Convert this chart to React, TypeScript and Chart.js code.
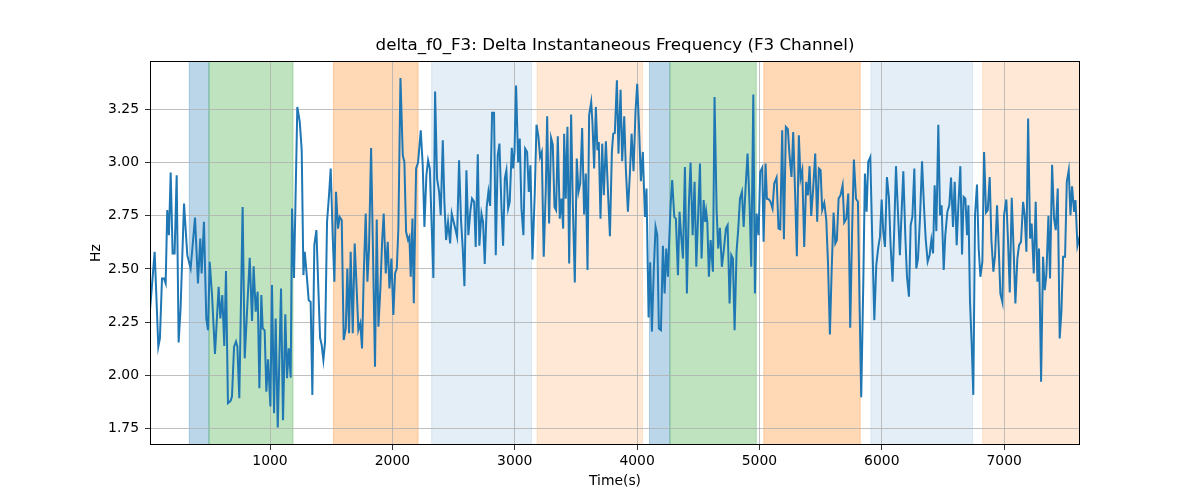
import React, { useEffect, useRef } from "react";
import { Chart, registerables } from "chart.js";

Chart.register(...registerables);

// ---- data ----
const timeS: number[] = [
  // 0 - 1300
  19, 57, 87, 100, 117, 133, 147, 160, 174, 188,
  204, 220, 237, 253, 269, 297, 324, 351, 387, 411,
  430, 441, 460, 479, 493, 507, 526, 550, 580, 594,
  610, 626, 640, 656, 678, 689, 706, 722, 733, 749,
  776, 793, 834, 853, 866, 883, 899, 913, 929, 940,
  956, 970, 984, 1003, 1016, 1033, 1046, 1063, 1090, 1106,
  1125, 1139, 1153, 1169, 1180, 1196, 1223, 1243, 1259, 1273,
  1284,
  // 1300 - 2480
  1300, 1316, 1332, 1346, 1362, 1379, 1395, 1409, 1422, 1436,
  1450, 1466, 1482, 1496, 1512, 1526, 1539, 1556, 1569, 1586,
  1602, 1619, 1632, 1646, 1659, 1676, 1692, 1708, 1722, 1738,
  1752, 1766, 1782, 1796, 1809, 1826, 1842, 1858, 1872, 1886,
  1902, 1916, 1929, 1946, 1962, 1976, 1992, 2008, 2022, 2036,
  2049, 2066, 2085, 2098, 2112, 2128, 2139, 2150, 2164, 2175,
  2194, 2210, 2232, 2248, 2262, 2278, 2292, 2306, 2322, 2335,
  2349, 2365, 2382, 2395, 2412, 2425, 2439, 2455, 2472,
  // 2480 - 3710
  2485, 2499, 2515, 2529, 2545, 2561, 2575, 2589, 2605, 2621,
  2638, 2651, 2668, 2681, 2698, 2711, 2728, 2741, 2755, 2771,
  2785, 2799, 2815, 2831, 2845, 2861, 2875, 2891, 2905, 2919,
  2932, 2946, 2959, 2976, 2987, 2998, 3011, 3028, 3041, 3055,
  3071, 3085, 3101, 3115, 3128, 3145, 3164, 3178, 3194, 3207,
  3221, 3237, 3254, 3265, 3281, 3297, 3311, 3325, 3338, 3352,
  3368, 3382, 3396, 3404, 3417, 3431, 3445, 3461, 3475, 3491,
  3507, 3521, 3535, 3551, 3567, 3581, 3595, 3608, 3625, 3635,
  3649, 3663, 3676, 3687, 3701,
  // 3710 - 5000
  3715, 3728, 3745, 3761, 3778, 3794, 3805, 3818, 3835, 3848,
  3865, 3878, 3895, 3908, 3925, 3941, 3955, 3971, 3987, 4001,
  4015, 4031, 4047, 4064, 4077, 4094, 4107, 4121, 4137, 4151,
  4165, 4178, 4195, 4211, 4225, 4238, 4252, 4260, 4274, 4287,
  4304, 4317, 4334, 4347, 4361, 4375, 4391, 4407, 4424, 4437,
  4454, 4470, 4484, 4500, 4514, 4527, 4544, 4557, 4565, 4574,
  4587, 4601, 4620, 4633, 4650, 4663, 4677, 4693, 4710, 4726,
  4740, 4756, 4770, 4783, 4797, 4813, 4827, 4841, 4857, 4871,
  4887, 4903, 4920, 4933, 4950, 4963, 4977, 4993,
  // 5000 - 6230
  5006, 5023, 5034, 5050, 5061, 5077, 5091, 5107, 5121, 5140,
  5156, 5170, 5186, 5200, 5216, 5232, 5246, 5262, 5276, 5292,
  5306, 5322, 5336, 5350, 5366, 5382, 5396, 5410, 5423, 5440,
  5456, 5472, 5486, 5500, 5513, 5530, 5546, 5560, 5576, 5590,
  5606, 5620, 5633, 5647, 5663, 5680, 5693, 5710, 5726, 5742,
  5759, 5772, 5789, 5805, 5819, 5832, 5849, 5862, 5876, 5889,
  5906, 5922, 5939, 5955, 5971, 5985, 5999, 6012, 6026, 6042,
  6058, 6072, 6088, 6102, 6116, 6132, 6148, 6162, 6176, 6192,
  6206, 6222,
  // 6230 - 7620
  6236, 6250, 6266, 6282, 6296, 6312, 6329, 6345, 6359, 6375,
  6391, 6405, 6419, 6432, 6446, 6462, 6476, 6489, 6506, 6519,
  6536, 6552, 6566, 6582, 6596, 6612, 6626, 6642, 6656, 6669,
  6683, 6697, 6708, 6721, 6735, 6748, 6762, 6778, 6792, 6806,
  6822, 6836, 6852, 6866, 6882, 6896, 6912, 6926, 6942, 6956,
  6969, 6986, 6999, 7018, 7032, 7046, 7062, 7078, 7092, 7108,
  7122, 7138, 7155, 7168, 7182, 7196, 7212, 7225, 7242, 7258,
  7272, 7285, 7302, 7318, 7332, 7345, 7362, 7375, 7392, 7408,
  7422, 7438, 7454, 7468, 7482, 7498, 7512, 7528, 7542, 7555,
  7572, 7583, 7599, 7620,
];

const deltaHz: number[] = [
  // 0 - 1300
  2.306, 2.581, 2.134, 2.173, 2.455, 2.455, 2.432, 2.777, 2.659, 2.954,
  2.573, 2.573, 2.941, 2.154, 2.314, 2.808, 2.565, 2.502, 2.742, 2.432,
  2.643, 2.479, 2.722, 2.267, 2.212, 2.534, 2.377, 2.100, 2.416, 2.267,
  2.377, 2.137, 2.490, 1.868, 1.879, 1.899, 2.134, 2.158, 2.134, 1.891,
  2.792, 2.079, 2.553, 2.255, 2.513, 2.299, 2.393, 1.938, 2.377, 2.220,
  2.211, 1.922, 2.074, 1.852, 2.424, 1.820, 2.267, 1.753, 2.408, 1.788,
  2.286, 1.985, 2.126, 1.988, 2.785, 2.458, 3.263, 3.192, 3.059, 2.471,
  2.581,
  // 1300 - 2480
  2.471, 2.353, 2.345, 1.907, 2.612, 2.683, 2.408, 2.176, 2.142, 2.071,
  2.158, 2.722, 2.847, 2.973, 2.659, 2.440, 2.863, 2.690, 2.745, 2.730,
  2.165, 2.220, 2.502, 2.197, 2.581, 2.197, 2.620, 2.408, 2.212, 2.244,
  2.126, 2.471, 2.761, 2.440, 2.596, 3.070, 2.565, 2.040, 2.733, 2.228,
  2.408, 2.628, 2.761, 2.479, 2.628, 2.408, 2.549, 2.283, 2.479, 2.502,
  2.690, 3.399, 3.035, 3.004, 2.675, 2.636, 2.651, 2.463, 2.737, 2.338,
  2.973, 3.001, 3.153, 2.988, 2.698, 2.941, 3.012, 2.973, 2.690, 2.458,
  3.336, 2.926, 2.863, 2.753, 3.106, 2.816, 2.636, 2.722, 2.620,
  // 2480 - 3710
  2.761, 2.726, 2.687, 2.651, 3.012, 2.730, 2.596, 2.419, 2.965, 2.659,
  2.777, 2.831, 2.816, 2.604, 3.040, 2.609, 2.761, 2.722, 2.523, 2.792,
  2.863, 2.797, 3.236, 3.236, 2.565, 3.035, 3.090, 2.800, 2.609, 2.926,
  2.965, 2.784, 2.816, 3.070, 2.973, 3.051, 3.364, 3.001, 3.114, 2.784,
  2.659, 3.067, 3.051, 2.863, 2.988, 2.545, 2.863, 3.179, 3.121, 3.027,
  3.051, 2.557, 2.879, 3.219, 2.714, 3.117, 3.085, 2.792, 2.777, 3.125,
  2.737, 2.831, 2.690, 3.137, 2.831, 3.169, 2.526, 3.227, 2.800, 2.436,
  3.020, 2.863, 2.902, 3.164, 2.756, 2.949, 2.495, 3.223, 3.286, 3.192,
  2.973, 3.263, 3.059, 3.098, 2.737,
  // 3710 - 5000
  3.090, 2.847, 3.101, 2.879, 2.654, 3.051, 3.137, 3.140, 3.388, 3.043,
  3.344, 3.007, 3.219, 2.973, 2.769, 2.949, 3.137, 2.960, 3.239, 3.372,
  3.184, 2.913, 3.051, 2.745, 2.879, 2.272, 2.531, 2.205, 2.502, 2.698,
  2.659, 2.220, 2.212, 2.609, 2.385, 2.596, 2.463, 2.596, 2.800, 2.918,
  2.745, 2.737, 2.471, 2.769, 2.651, 2.549, 2.980, 2.385, 2.816, 3.001,
  2.659, 2.910, 2.510, 2.769, 2.996, 2.549, 2.824, 2.722, 2.769, 2.722,
  2.463, 2.636, 2.487, 3.310, 2.777, 2.596, 2.694, 2.510, 2.596, 2.690,
  2.706, 2.338, 2.565, 2.549, 2.212, 2.581, 2.690, 2.831, 2.863, 2.698,
  2.886, 3.043, 2.792, 2.510, 3.321, 2.385, 2.761, 2.659,
  // 5000 - 6230
  2.957, 2.977, 2.628, 2.996, 2.831, 2.828, 2.816, 2.784, 2.902, 2.930,
  2.690, 2.687, 3.153, 2.640, 3.169, 3.158, 3.035, 2.933, 3.145, 2.847,
  2.560, 3.129, 2.926, 2.965, 2.604, 2.910, 2.847, 2.984, 2.750, 2.886,
  3.043, 2.722, 2.973, 2.965, 2.777, 2.811, 2.734, 2.534, 2.192, 2.487,
  2.766, 2.620, 2.636, 2.831, 2.847, 2.894, 2.719, 2.737, 2.855, 2.223,
  2.722, 3.015, 2.831, 2.816, 2.314, 1.896, 2.440, 2.949, 2.769, 3.004,
  3.027, 2.643, 2.259, 2.518, 2.600, 2.651, 2.827, 2.675, 2.604, 2.933,
  2.839, 2.612, 2.440, 2.690, 2.984, 2.769, 2.565, 2.769, 2.960, 2.659,
  2.463, 2.369,
  // 6230 - 7620
  2.706, 2.745, 2.973, 2.502, 2.549, 2.737, 3.007, 2.792, 2.640, 2.534,
  2.565, 2.636, 2.573, 2.894, 2.678, 3.179, 2.753, 2.800, 2.495, 2.659,
  2.769, 2.800, 2.930, 2.698, 2.910, 2.612, 2.800, 2.984, 2.568, 2.839,
  2.831, 2.659, 2.800, 2.346, 2.142, 1.907, 2.753, 2.897, 2.596, 2.463,
  2.534, 3.051, 2.766, 2.777, 2.933, 2.636, 2.487, 2.565, 2.800, 2.596,
  2.385, 2.343, 2.753, 2.827, 2.628, 2.389, 2.835, 2.581, 2.338, 2.549,
  2.612, 2.628, 2.816, 2.753, 2.581, 3.208, 2.643, 2.714, 2.479, 2.816,
  2.440, 2.596, 1.969, 2.557, 2.400, 2.471, 2.750, 2.455, 2.991, 2.737,
  2.683, 2.879, 2.173, 2.299, 2.557, 2.557, 2.910, 2.965, 2.753, 2.889,
  2.769, 2.824, 2.609, 2.659,
];

const xTicks = [1000, 2000, 3000, 4000, 5000, 6000, 7000];
const yTicks = [1.75, 2.0, 2.25, 2.5, 2.75, 3.0, 3.25];
const xRange = [19, 7620];
const yRange = [1.671, 3.479];

// shaded phases
const spanStart = [340, 501, 1518, 2321, 3183, 4101, 4268, 5036, 5911, 6824];
const spanEnd = [501, 1188, 2210, 3137, 4044, 4268, 4974, 5824, 6742, 7620];
const spanColor = [
  "rgba(31,119,180,0.3)",
  "rgba(44,160,44,0.3)",
  "rgba(255,127,14,0.3)",
  "rgba(31,119,180,0.12)",
  "rgba(255,127,14,0.17)",
  "rgba(31,119,180,0.3)",
  "rgba(44,160,44,0.3)",
  "rgba(255,127,14,0.3)",
  "rgba(31,119,180,0.12)",
  "rgba(255,127,14,0.17)",
];

const titleText = "delta_f0_F3: Delta Instantaneous Frequency (F3 Channel)";
const FONT = "DejaVu Sans";

const spansPlugin = {
  id: "spans",
  beforeDraw(chart: any) {
    const { ctx, chartArea, scales } = chart;
    const xs = scales.x;
    ctx.save();
    ctx.beginPath();
    ctx.rect(chartArea.left, chartArea.top, chartArea.right - chartArea.left, chartArea.bottom - chartArea.top);
    ctx.clip();
    for (let i = 0; i < spanStart.length; i++) {
      const x0 = xs.getPixelForValue(spanStart[i]);
      const x1 = xs.getPixelForValue(spanEnd[i]);
      ctx.fillStyle = spanColor[i];
      ctx.fillRect(x0, chartArea.top, x1 - x0, chartArea.bottom - chartArea.top);
      ctx.strokeStyle = spanColor[i];
      ctx.lineWidth = 1;
      ctx.strokeRect(x0, chartArea.top, x1 - x0, chartArea.bottom - chartArea.top);
    }
    ctx.restore();
  },
  afterDraw(chart: any) {
    const { ctx, chartArea } = chart;
    ctx.save();
    ctx.strokeStyle = "#000";
    ctx.lineWidth = 1;
    const l = Math.round(chartArea.left) + 0.5;
    const t = Math.round(chartArea.top) + 0.5;
    const r = Math.round(chartArea.right) - 0.5;
    const b = Math.round(chartArea.bottom) - 0.5;
    ctx.strokeRect(l, t, r - l, b - t);
    ctx.restore();
  },
};

export default function App() {
  const ref = useRef<HTMLCanvasElement | null>(null);

  useEffect(() => {
    document.body.style.margin = "0";
    const canvas = ref.current;
    if (!canvas) return;
    const points = timeS.map((t, i) => ({ x: t, y: deltaHz[i] }));
    const tickFont = { family: FONT, size: 13.9 };
    const chart = new Chart(canvas, {
      type: "line",
      data: {
        datasets: [
          {
            data: points,
            borderColor: "#1f77b4",
            borderWidth: 2,
            pointRadius: 0,
            tension: 0,
            fill: false,
          },
        ],
      },
      options: {
        animation: false,
        responsive: false,
        devicePixelRatio: 1,
        layout: { padding: { left: 0, right: 120, top: 0, bottom: 0 } },
        plugins: {
          legend: { display: false },
          tooltip: { enabled: false },
          title: {
            display: true,
            fullSize: false,
            text: titleText,
            color: "#000",
            font: { family: FONT, size: 16.7, weight: "normal" },
            padding: { top: 36, bottom: 5 },
          },
        },
        scales: {
          x: {
            type: "linear",
            min: xRange[0],
            max: xRange[1],
            afterBuildTicks: (s: any) => {
              s.ticks = xTicks.map((v) => ({ value: v }));
            },
            afterFit: (s: any) => {
              s.height = 55;
            },
            ticks: {
              color: "#000",
              font: tickFont,
              padding: 3,
              maxRotation: 0,
              autoSkip: false,
              callback: (v: any) => String(v),
            },
            grid: {
              color: "#b0b0b0",
              lineWidth: 0.8,
              tickColor: "#000",
              tickLength: 5,
              drawTicks: true,
            },
            border: { display: false },
            title: {
              display: true,
              text: "Time(s)",
              color: "#000",
              font: tickFont,
              padding: { top: 0, bottom: 10.6 },
            },
          },
          y: {
            type: "linear",
            min: yRange[0],
            max: yRange[1],
            afterBuildTicks: (s: any) => {
              s.ticks = yTicks.map((v) => ({ value: v }));
            },
            afterFit: (s: any) => {
              s.width = 150;
            },
            ticks: {
              color: "#000",
              font: tickFont,
              padding: 6,
              autoSkip: false,
              callback: (v: any) => Number(v).toFixed(2),
            },
            grid: {
              color: "#b0b0b0",
              lineWidth: 0.8,
              tickColor: "#000",
              tickLength: 5,
              drawTicks: true,
            },
            border: { display: false },
            title: {
              display: true,
              text: "Hz",
              color: "#000",
              font: tickFont,
              padding: { top: 87.7, bottom: 0 },
            },
          },
        },
      },
      plugins: [spansPlugin],
    });
    return () => chart.destroy();
  }, []);

  return (
    <div style={{ width: 1200, height: 500 }}>
      <canvas ref={ref} width={1200} height={500} style={{ display: "block" }} />
    </div>
  );
}
